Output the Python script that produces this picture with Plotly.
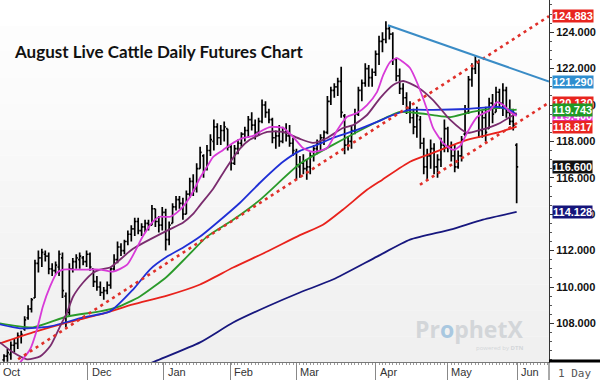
import plotly.graph_objects as go

# ---------------- data ----------------
opens = [106.0, 106.2, 106.3, 106.8, 106.9, 107.3, 107.7, 108.3, 108.8, 109.4,
         111.3, 111.6, 111.8, 111.7, 111.0, 110.9, 111.1, 111.6, 109.5, 108.6,
         111.0, 111.4, 111.5, 111.6, 111.4, 111.8, 111.0, 110.3, 110.0, 109.7,
         109.8, 110.1, 111.0, 111.5, 112.2, 112.0, 112.5, 112.9, 113.2, 113.6,
         113.1, 113.3, 113.5, 113.4, 114.3, 113.6, 113.4, 114.1, 112.6, 113.5,
         114.4, 114.8, 114.6, 114.0, 115.1, 115.8, 115.4, 116.5, 117.2, 116.5,
         117.5, 118.0, 118.8, 118.2, 118.6, 118.7, 117.7, 116.8, 117.6, 117.9,
         118.4, 118.6, 119.2, 118.9, 118.5, 119.1, 120.0, 119.6, 119.2, 118.2,
         118.3, 118.0, 118.5, 118.3, 117.9, 117.4, 116.6, 116.8, 116.5, 116.6,
         117.2, 117.6, 117.9, 118.2, 118.5, 120.2, 120.8, 121.0, 121.3, 119.4,
         117.8, 118.0, 118.6, 119.5, 120.8, 121.2, 122.0, 121.5, 121.8, 122.8,
         123.5, 123.6, 124.2, 123.9, 122.5, 121.6, 120.9, 120.4, 119.8, 119.3,
         118.8, 119.2, 117.9, 116.6, 117.2, 117.6, 116.6, 117.0, 117.8, 118.7,
         117.7, 117.2, 116.6, 117.2, 118.4, 119.6, 121.4, 122.0, 122.3, 118.6,
         119.3, 118.7, 120.1, 119.6, 120.7, 120.1, 120.8, 119.6, 119.1, 117.8]
highs = [106.3, 106.6, 107.0, 107.2, 107.5, 107.6, 108.4, 109.0, 109.4, 111.5,
         112.0, 112.1, 112.0, 111.9, 111.3, 111.4, 112.0, 111.9, 109.7, 111.3,
         111.6, 111.8, 111.9, 111.7, 112.0, 111.9, 111.0, 110.6, 110.3, 110.0,
         110.3, 111.1, 111.8, 112.5, 112.4, 112.6, 113.1, 113.4, 113.8, 113.8,
         113.5, 113.7, 113.7, 114.5, 114.3, 113.9, 114.4, 114.3, 113.6, 114.6,
         115.0, 115.0, 114.9, 115.3, 116.0, 116.2, 116.8, 117.7, 117.3, 117.8,
         118.4, 119.2, 119.0, 118.9, 119.1, 118.7, 117.8, 117.8, 118.1, 118.5,
         118.8, 119.4, 119.6, 119.2, 119.3, 120.3, 120.2, 119.8, 119.3, 118.6,
         118.9, 118.8, 119.0, 118.9, 118.2, 117.6, 117.2, 117.3, 117.0, 117.4,
         117.8, 118.1, 118.4, 118.6, 120.5, 121.0, 121.2, 121.5, 122.1, 119.5,
         118.3, 118.9, 119.8, 121.0, 121.4, 122.3, 122.2, 122.0, 123.0, 123.8,
         124.0, 124.6, 124.4, 124.0, 122.6, 122.0, 121.2, 120.7, 120.2, 119.8,
         119.9, 119.4, 118.2, 117.6, 118.1, 117.9, 117.3, 118.2, 119.2, 118.8,
         118.0, 117.8, 117.5, 118.3, 120.0, 121.6, 122.3, 122.7, 122.5, 119.7,
         119.9, 120.4, 120.6, 121.0, 120.9, 121.2, 121.0, 120.3, 119.8, 117.9]
lows = [105.9, 105.9, 106.0, 106.4, 106.6, 106.9, 107.6, 108.2, 108.6, 109.4,
        110.8, 111.1, 111.4, 110.7, 110.6, 110.7, 110.6, 109.4, 107.8, 108.4,
        110.8, 111.0, 111.0, 111.2, 111.1, 110.9, 110.0, 109.8, 109.5, 109.3,
        109.6, 109.9, 110.9, 111.3, 111.7, 111.8, 112.3, 112.5, 112.8, 112.9,
        112.8, 113.0, 113.1, 113.4, 113.3, 113.0, 113.1, 112.0, 112.3, 113.5,
        114.2, 114.3, 113.7, 114.0, 114.9, 115.0, 115.2, 116.5, 116.0, 116.4,
        117.2, 117.5, 117.8, 117.8, 118.0, 117.5, 116.4, 116.7, 117.3, 117.7,
        118.0, 118.2, 118.6, 118.1, 118.3, 119.0, 119.3, 119.0, 117.9, 117.6,
        117.7, 117.9, 118.0, 117.7, 117.2, 115.9, 116.0, 116.2, 115.9, 116.2,
        116.9, 117.3, 117.5, 117.8, 118.4, 120.0, 120.4, 120.5, 119.3, 117.3,
        117.5, 117.6, 118.4, 119.4, 120.2, 121.0, 121.0, 121.0, 121.6, 122.2,
        122.9, 123.4, 123.6, 122.2, 121.3, 120.6, 120.0, 119.5, 119.0, 118.4,
        118.2, 117.6, 116.2, 115.9, 116.5, 116.2, 116.0, 116.6, 117.4, 117.4,
        116.9, 116.3, 116.5, 116.9, 118.3, 119.5, 121.0, 121.7, 118.2, 118.2,
        118.0, 118.7, 119.0, 119.6, 119.8, 119.4, 119.3, 118.9, 118.6, 114.6]
closes = [106.2, 106.4, 106.8, 106.9, 107.3, 107.4, 108.2, 108.8, 109.3, 111.3,
          111.6, 111.9, 111.7, 111.0, 110.9, 111.2, 111.8, 109.8, 108.5, 111.0,
          111.4, 111.6, 111.7, 111.4, 111.8, 111.1, 110.3, 110.0, 109.7, 109.8,
          110.1, 111.0, 111.5, 112.2, 112.0, 112.5, 112.9, 113.2, 113.6, 113.1,
          113.3, 113.5, 113.4, 114.3, 113.6, 113.4, 114.1, 112.6, 113.4, 114.4,
          114.8, 114.6, 114.0, 115.1, 115.8, 115.3, 116.5, 117.4, 116.4, 117.5,
          118.1, 118.8, 118.2, 118.6, 118.8, 117.7, 116.8, 117.6, 117.9, 118.4,
          118.6, 119.2, 118.9, 118.5, 119.1, 120.0, 119.6, 119.2, 118.2, 118.3,
          118.0, 118.5, 118.3, 117.9, 117.5, 116.7, 116.8, 116.5, 116.6, 117.2,
          117.6, 117.9, 118.2, 118.5, 120.2, 120.8, 121.0, 121.3, 119.6, 117.8,
          118.0, 118.6, 119.5, 120.8, 121.2, 122.0, 121.5, 121.8, 122.8, 123.5,
          123.6, 124.2, 123.9, 122.5, 121.6, 120.9, 120.4, 119.8, 119.3, 118.8,
          119.4, 117.9, 116.6, 117.2, 117.6, 116.6, 117.0, 117.8, 118.7, 117.7,
          117.2, 116.6, 117.2, 118.1, 119.6, 121.4, 122.0, 122.4, 118.6, 119.3,
          118.5, 120.1, 119.5, 120.7, 120.1, 120.8, 119.6, 119.1, 118.9, 116.6]
bar_index = list(range(len(closes)))

# moving averages, read point by point (bar index, price)
ma_magenta_x = [4.7, 7.6, 9.6, 11.3, 13.4, 15.4, 17.2, 20.1, 24.1, 27.9, 31.7, 35.8, 40.4, 43.3,
                45.3, 48.3, 51.2, 54.1, 57.0, 59.0, 60.8, 63.7, 66.6, 69.5, 72.4, 75.3, 77.3,
                81.1, 84.0, 86.9, 89.8, 93.9, 96.8, 99.7, 102.6, 105.5, 108.4, 110.2, 112.2,
                114.2, 116.0, 118.0, 120.1, 123.0, 124.7, 127.6, 130.5, 132.6, 134.6, 137.5,
                141.3, 143.3, 145.1, 147.1, 149.0]
ma_magenta_y = [105.86, 106.58, 107.67, 108.93, 110.03, 110.79, 110.96, 110.96, 110.96, 110.96,
                110.85, 111.23, 112.8, 113.6, 113.86, 113.86, 114.25, 114.96, 116.0, 116.6,
                117.15, 117.53, 117.92, 118.19, 118.30, 118.63, 118.79, 118.74, 118.25, 117.64,
                117.42, 117.64, 118.6, 119.35, 119.56, 120.0, 120.71, 121.64, 122.36, 122.58,
                122.36, 122.03, 121.21, 119.73, 118.74, 117.92, 117.53, 117.75, 118.47, 119.34,
                119.73, 120.16, 120.0, 119.62, 119.40]
ma_purple_x = [-1.2, 2.6, 6.7, 10.5, 13.4, 16.3, 18.3, 20.1, 23.0, 25.9, 27.9, 30.8, 37.5, 47.4,
               52.0, 54.9, 57.0, 60.8, 64.8, 68.6, 71.5, 76.5, 81.1, 86.0, 89.8, 93.9, 98.5,
               101.5, 105.5, 109.3, 113.1, 116.0, 120.1, 124.7, 129.7, 134.6, 138.4, 141.3,
               144.2, 148.0, 149.0]
ma_purple_y = [106.96, 106.41, 106.03, 106.19, 106.74, 107.84, 108.6, 109.48, 110.25, 110.79,
               110.96, 111.07, 112.1, 113.1, 113.53, 114.0, 114.5, 115.4, 116.6, 117.6, 118.1,
               118.52, 118.52, 118.14, 117.92, 118.19, 118.74, 118.9, 119.45, 120.38, 121.1,
               121.32, 120.99, 120.27, 119.18, 118.47, 118.63, 118.79, 119.01, 119.45, 119.56]
ma_blue_x = [-1.2, 4.65, 13.4, 23.0, 30.8, 37.5, 42.4, 47.4, 52.0, 57.0, 61.9, 68.6, 74.4, 81.1,
             86.0, 91.0, 95.6, 102.6, 108.4, 113.1, 118.0, 124.7, 134.6, 144.2, 148.0, 149.0]
ma_blue_y = [107.95, 107.73, 107.84, 108.33, 108.66, 109.86, 110.96, 111.67, 112.16, 112.77,
             113.53, 114.63, 115.73, 116.88, 117.48, 117.81, 118.19, 118.63, 119.07, 119.45,
             119.73, 119.73, 119.78, 119.89, 119.62, 119.45]
ma_green_x = [-1.2, 8.4, 18.3, 27.9, 32.8, 39.5, 47.4, 53.2, 59.0, 66.6, 74.4, 86.0, 95.6, 102.6,
              108.4, 115.1, 120.1, 124.7, 129.7, 134.6, 139.2, 144.2, 148.0, 149.0]
ma_green_y = [108.0, 107.78, 108.38, 108.66, 108.88, 109.48, 110.58, 111.67, 112.77, 113.70,
              114.79, 116.77, 117.81, 118.52, 119.07, 119.62, 119.56, 119.45, 119.34, 119.56,
              119.73, 119.84, 119.73, 119.743]
ma_red_x = [-1.2, 8.4, 18.3, 27.9, 37.5, 47.4, 57.0, 66.6, 76.5, 86.0, 92.7, 98.5, 105.5, 110.0,
            118.0, 124.7, 134.6, 144.2, 149.0]
ma_red_y = [106.9, 107.51, 108.05, 108.49, 109.04, 109.53, 110.14, 111.07, 111.95, 112.85,
            113.42, 114.25, 115.34, 115.9, 116.88, 117.37, 118.08, 118.52, 118.817]
ma_navy_x = [36.6, 43.9, 57.0, 66.6, 76.5, 86.0, 95.6, 108.4, 118.0, 129.7, 139.2, 149.0]
ma_navy_y = [105.33, 105.92, 106.96, 108.05, 108.93, 109.70, 110.41, 111.67, 112.60, 113.15,
             113.70, 114.128]

# trend lines (bar index, price)
channel_upper_x = [4.1, 158.4]
channel_upper_y = [106.03, 124.883]
channel_lower_x = [120.9, 158.4]
channel_lower_y = [115.62, 120.130]
resist_x = [111.6, 158.4]
resist_y = [124.38, 121.290]

# right-hand price flags: (value, colour)
flag_values = [124.883, 121.290, 120.130, 119.400, 119.743, 118.817, 116.600, 114.128]
flag_colors = ["#e8251f", "#2f8ecf", "#e8251f", "#e435e4", "#1f9a24", "#e8251f", "#111111", "#15157a"]

# price axis labels
y_ticks = [108, 110, 112, 114, 116, 118, 120, 122, 124]

# month boundaries (bar index) and labels
month_pos = [24.4, 46.5, 65.7, 84.9, 108.1, 128.8, 149.1]
month_txt = ["Dec", "Jan", "Feb", "Mar", "Apr", "May", "Jun"]

X_RANGE = [-1.16, 158.4]
Y_RANGE = [105.88, 125.77]

# ---------------- figure ----------------
fig = go.Figure()

fig.add_trace(go.Ohlc(
    x=bar_index, open=opens, high=highs, low=lows, close=closes,
    increasing=dict(line=dict(color="#000000", width=1.7)),
    decreasing=dict(line=dict(color="#000000", width=1.7)),
    tickwidth=0.45, hoverinfo="skip", showlegend=False))

def ma(xs, ys, color, width=1.8):
    fig.add_trace(go.Scatter(x=xs, y=ys, mode="lines",
                             line=dict(color=color, width=width, shape="spline", smoothing=0.6),
                             hoverinfo="skip", showlegend=False))

ma(ma_navy_x, ma_navy_y, "#17177e")
ma(ma_red_x, ma_red_y, "#e8221c")
ma(ma_green_x, ma_green_y, "#2a9a2a")
ma(ma_blue_x, ma_blue_y, "#1f2fd6")
ma(ma_purple_x, ma_purple_y, "#7a2c6e")
ma(ma_magenta_x, ma_magenta_y, "#d83ad8")

for xs, ys in [(channel_upper_x, channel_upper_y), (channel_lower_x, channel_lower_y)]:
    fig.add_trace(go.Scatter(x=xs, y=ys, mode="lines",
                             line=dict(color="#e0302a", width=2.6, dash="3px,4px"),
                             hoverinfo="skip", showlegend=False))
fig.add_trace(go.Scatter(x=resist_x, y=resist_y, mode="lines",
                         line=dict(color="#3a8cc6", width=2),
                         hoverinfo="skip", showlegend=False))

# background gradient bands (paper coords)
shapes = []
n_bands = 14
for k in range(n_bands):
    g = int(255 - (255 - 240) * k / (n_bands - 1))
    shapes.append(dict(type="rect", xref="paper", yref="paper", layer="below",
                       x0=0, x1=1, y0=1 - (k + 1) / n_bands, y1=1 - k / n_bands,
                       fillcolor=f"rgb({g},{g},{g})", line=dict(width=0)))
# right axis line continued through the date band, and the thick bar above "1 Day"
band = 18 / 362
shapes.append(dict(type="line", xref="paper", yref="paper", x0=1, x1=1, y0=-band, y1=0,
                   line=dict(color="#555", width=1)))
shapes.append(dict(type="line", xref="paper", yref="paper", x0=1, x1=1 + 51 / 549, y0=0.003, y1=0.003,
                   line=dict(color="#000", width=3)))

annotations = []
annotations.append(dict(xref="paper", yref="paper", x=12 / 549, y=1 - 52 / 362,
                        xanchor="left", yanchor="middle", showarrow=False,
                        text="<b>August Live Cattle Daily Futures Chart</b>",
                        font=dict(family="Lato", size=17, color="#111")))
annotations.append(dict(xref="paper", yref="paper", x=0.002, y=0, yshift=-2,
                        xanchor="left", yanchor="top", showarrow=False, text="Oct",
                        font=dict(family="Liberation Sans", size=11, color="#333")))
for p, t in zip(month_pos, month_txt):
    annotations.append(dict(xref="x", yref="paper", x=p, y=0, xshift=2, yshift=-2,
                            xanchor="left", yanchor="top", showarrow=False, text=t,
                            font=dict(family="Liberation Sans", size=11, color="#333")))
annotations.append(dict(xref="paper", yref="paper", x=1 + 25 / 549, y=0, yshift=-3,
                        xanchor="center", yanchor="top", showarrow=False, text="1 Day",
                        font=dict(family="DejaVu Sans Mono", size=11, color="#555")))
# watermark
annotations.append(dict(xref="paper", yref="paper", x=469 / 549, y=1 - 329 / 362,
                        xanchor="center", yanchor="middle", showarrow=False,
                        text="Pr<span style='color:#a9c8e0'>o</span>phetX",
                        font=dict(family="Open Sans", size=23, color="#d3d6d9", weight="bold")))
annotations.append(dict(xref="paper", yref="paper", x=500 / 549, y=1 - 348 / 362,
                        xanchor="center", yanchor="middle", showarrow=False,
                        text="powered by <b>DTN</b>",
                        font=dict(family="Open Sans", size=6, color="#d3d6d9")))
# price flags
for v, c in zip(flag_values, flag_colors):
    annotations.append(dict(xref="paper", yref="y", x=1, y=v, xshift=3,
                            xanchor="left", yanchor="middle", showarrow=False,
                            text=f"{v:.3f}", bgcolor=c, borderpad=0,
                            font=dict(family="Liberation Sans", size=11, color="#ffffff",
                                      weight="bold")))

fig.update_layout(
    width=600, height=380,
    margin=dict(l=0, r=51, t=0, b=18),
    paper_bgcolor="#ffffff", plot_bgcolor="#ffffff",
    shapes=shapes, annotations=annotations,
    xaxis=dict(range=X_RANGE, showgrid=False, zeroline=False, rangeslider=dict(visible=False),
               showline=True, linecolor="#777", linewidth=1,
               tickmode="array", tickvals=month_pos, ticktext=["" for _ in month_pos],
               ticks="outside", ticklen=18, tickcolor="#888", tickwidth=1,
               minor=dict(tickmode="linear", tick0=0, dtick=1, ticks="outside",
                          ticklen=2, tickcolor="#999")),
    yaxis=dict(range=Y_RANGE, side="right", showgrid=False, zeroline=False,
               showline=True, linecolor="#333", linewidth=1,
               tickmode="array", tickvals=y_ticks, tickformat=".3f",
               ticks="outside", ticklen=4, tickcolor="#333",
               tickfont=dict(family="Liberation Sans", size=11, color="#111", weight="bold"),
               minor=dict(tickmode="linear", tick0=0, dtick=0.5, ticks="outside",
                          ticklen=2, tickcolor="#555")),
    showlegend=False,
)

fig.write_html("out.html", config={"displayModeBar": False},
               post_script="document.body.style.margin='0';document.body.style.overflow='hidden';")
